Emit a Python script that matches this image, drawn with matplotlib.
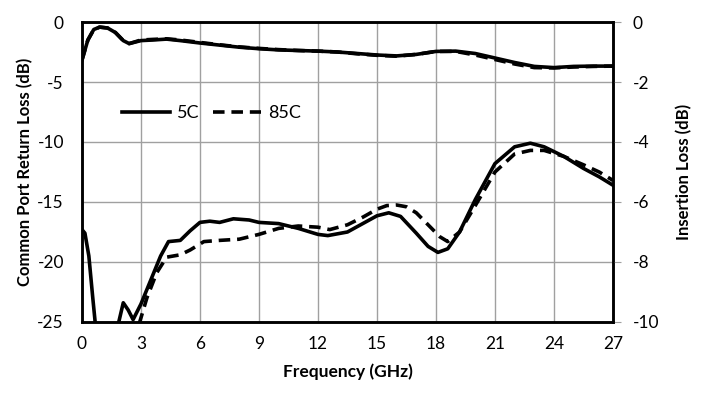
import numpy as np
import matplotlib
matplotlib.use("Agg")
import matplotlib.pyplot as plt

plt.rcParams['font.family'] = ['Lato', 'DejaVu Sans']
plt.rcParams['axes.unicode_minus'] = False

# insertion loss (right axis)
il_freq = [0, 0.3, 0.6, 0.9, 1.3, 1.7, 2.1, 2.4, 3.0, 3.6, 4.3, 5.0, 6.0, 7.0, 8.0, 9.0,
           10.0, 11.0, 12.0, 13.0, 14.0, 15.0, 16.0, 17.0, 18.0, 19.0, 20.0, 21.0, 22.0,
           23.0, 24.0, 25.0, 26.0, 27.0]
il_5c = [-1.27, -0.6, -0.25, -0.17, -0.2, -0.35, -0.62, -0.72, -0.62, -0.6, -0.57, -0.62,
         -0.7, -0.77, -0.84, -0.89, -0.93, -0.95, -0.97, -1.0, -1.05, -1.1, -1.13, -1.08,
         -0.98, -0.97, -1.05, -1.2, -1.35, -1.48, -1.52, -1.48, -1.47, -1.47]
il_85c = [-1.27, -0.6, -0.25, -0.17, -0.2, -0.35, -0.62, -0.72, -0.6, -0.58, -0.56, -0.6,
          -0.68, -0.76, -0.83, -0.88, -0.92, -0.95, -0.97, -1.0, -1.06, -1.11, -1.14, -1.08,
          -0.98, -0.98, -1.1, -1.25, -1.4, -1.52, -1.53, -1.5, -1.48, -1.47]

# common port return loss (left axis)
rl_freq_5c = [0, 0.15, 0.35, 0.55, 0.7, 1.2, 1.8, 2.1, 2.35, 2.6, 3.0, 3.5, 4.0, 4.4, 5.0,
              5.5, 6.0, 6.5, 7.0, 7.7, 8.5, 9.0, 10.0, 11.0, 12.0, 12.5, 13.5, 14.5, 15.0,
              15.6, 16.2, 17.0, 17.6, 18.1, 18.6, 19.2, 20.0, 21.0, 22.0, 22.8, 23.5, 24.5,
              25.5, 26.3, 27.0]
rl_5c = [-17.3, -17.6, -19.5, -23, -25.5, -30, -25.5, -23.4, -24.0, -24.8, -23.5, -21.5,
         -19.5, -18.3, -18.2, -17.4, -16.7, -16.6, -16.7, -16.4, -16.5, -16.7, -16.8, -17.2,
         -17.7, -17.8, -17.5, -16.6, -16.15, -15.9, -16.2, -17.6, -18.7, -19.2, -18.9, -17.5,
         -14.8, -11.8, -10.4, -10.1, -10.4, -11.2, -12.2, -12.9, -13.6]
rl_freq_85c = [2.9, 3.3, 3.8, 4.3, 5.0, 5.5, 6.2, 7.0, 8.0, 9.0, 10.0, 11.0, 12.0, 12.6,
               13.5, 14.3, 15.0, 15.5, 16.0, 16.5, 17.0, 17.6, 18.2, 18.6, 19.2, 20.0, 21.0,
               22.0, 22.8, 23.5, 24.5, 25.5, 26.3, 27.0]
rl_85c = [-25.2, -23.0, -20.9, -19.6, -19.4, -19.0, -18.3, -18.2, -18.1, -17.7, -17.2, -17.0,
          -17.1, -17.3, -16.9, -16.25, -15.6, -15.3, -15.25, -15.4, -15.9, -16.9, -17.9,
          -18.3, -17.5, -15.3, -12.5, -11.0, -10.7, -10.7, -11.2, -11.9, -12.5, -13.2]

fig = plt.figure(figsize=(7.03, 3.93), dpi=100)
ax = fig.add_axes([0.1166, 0.1807, 0.7553, 0.7633])
ax2 = ax.twinx()

lw = 2.6
dash = (0, (3.2, 1.9))
l1, = ax.plot(rl_freq_5c, rl_5c, color='black', lw=lw, solid_joinstyle='round')
l2, = ax.plot(rl_freq_85c, rl_85c, color='black', lw=lw, linestyle=dash)
ax2.plot(il_freq, il_85c, color='black', lw=lw, linestyle=dash)
ax2.plot(il_freq, il_5c, color='black', lw=lw, solid_joinstyle='round')

ax.set_xlim(0, 27)
ax.set_ylim(-25, 0)
ax2.set_ylim(-10, 0)
ax.set_xticks(np.arange(0, 28, 3))
ax.set_yticks(np.arange(-25, 1, 5))
ax2.set_yticks(np.arange(-10, 1, 2))
ax.grid(True, color='#a0a0a0', lw=1)
ax.set_axisbelow(True)

ax.tick_params(axis='y', length=0, labelsize=12.5, pad=13)
ax.tick_params(axis='x', length=0, labelsize=12.5, pad=10)
ax2.tick_params(axis='y', length=6, color='#a0a0a0', labelsize=12.5, pad=8)
for a in (ax, ax2):
    for s in a.spines.values():
        s.set_linewidth(1.8)

ax.set_xlabel('Frequency (GHz)', fontsize=12.5, fontweight='bold', labelpad=8)
ax.set_ylabel('Common Port Return Loss (dB)', fontsize=12, fontweight='bold', labelpad=3)
ax2.set_ylabel('Insertion Loss (dB)', fontsize=12, fontweight='bold', labelpad=12)

ax.legend([l1, l2], ['5C', '85C'], loc='center left', bbox_to_anchor=(0.045, 0.697),
          ncol=2, frameon=False, fontsize=13, handlelength=2.65, columnspacing=0.75,
          handletextpad=0.4)

fig.savefig('out.png', dpi=100)
